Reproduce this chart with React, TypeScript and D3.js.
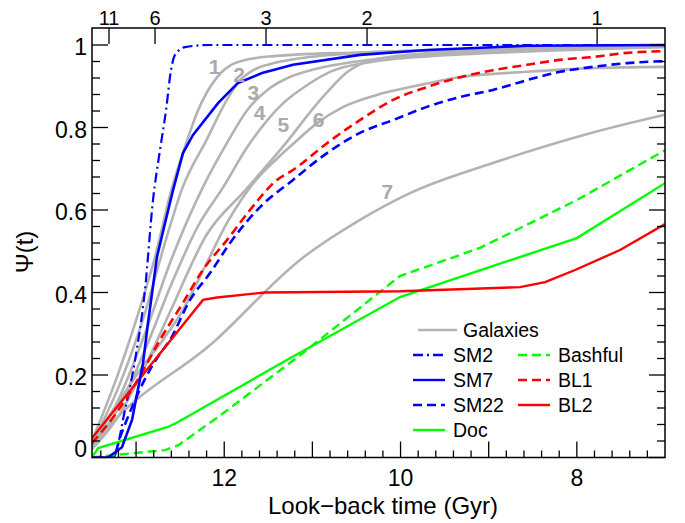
import React from "react";
import * as d3 from "d3";

type P = [number, number];

// Look-back time (Gyr), Psi(t)
const galaxy1: P[] = [[13.5,0.04],[13.2,0.205],[13.01,0.326],[12.785,0.486],[12.6,0.648],[12.45,0.75],[12.3,0.84],[12.08,0.922],[11.88,0.956],[11.5,0.972],[10.5,0.982],[9,0.99],[7,0.997]];
const galaxy2: P[] = [[13.5,0.035],[13.2,0.17],[12.9,0.35],[12.7,0.5],[12.47,0.656],[12.2,0.77],[11.97,0.867],[11.82,0.915],[11.67,0.939],[11.4,0.958],[11.14,0.968],[10.5,0.98],[9,0.99],[7,0.998]];
const galaxy3: P[] = [[13.5,0.03],[13.2,0.14],[12.9,0.3],[12.6,0.48],[12.24,0.656],[11.97,0.762],[11.74,0.842],[11.51,0.891],[11.25,0.923],[11.0,0.94],[10.5,0.96],[9.5,0.978],[8,0.99],[7,0.995]];
const galaxy4: P[] = [[13.5,0.025],[13.2,0.12],[12.9,0.26],[12.6,0.42],[12.3,0.56],[12.01,0.656],[11.74,0.752],[11.51,0.818],[11.33,0.859],[11.14,0.891],[10.8,0.935],[10.3,0.96],[9.5,0.975],[8.5,0.985],[7,0.995]];
const galaxy5: P[] = [[13.5,0.02],[13.2,0.1],[12.9,0.22],[12.6,0.36],[12.2,0.54],[11.76,0.648],[11.367,0.745],[10.86,0.879],[10.6,0.935],[10.35,0.962],[9.8,0.978],[8.5,0.99],[7,0.997]];
const galaxy6: P[] = [[13.5,0.04],[13.18,0.14],[12.955,0.212],[12.695,0.285],[12.47,0.357],[12.2,0.471],[11.97,0.568],[11.65,0.67],[11.4,0.725],[11.22,0.76],[10.95,0.81],[10.65,0.85],[10.27,0.879],[9.89,0.898],[9.33,0.922],[8.57,0.935],[7.82,0.944],[7.0,0.947]];
const galaxy7: P[] = [[13.5,0.023],[13.434,0.042],[12.094,0.285],[11.14,0.479],[10.46,0.576],[9.893,0.641],[8.951,0.714],[7.817,0.788],[7.0,0.831]];
const galaxies = [galaxy1, galaxy2, galaxy3, galaxy4, galaxy5, galaxy6, galaxy7];
const galaxyLabels = ["1","2","3","4","5","6","7"];
const galaxyLabelPos: P[] = [[12.11,0.948],[11.83,0.928],[11.67,0.885],[11.6,0.836],[11.33,0.808],[10.93,0.82],[10.15,0.645]];

const sm2: P[] = [[13.5,0],[13.262,0],[13.126,0.115],[13.012,0.236],[12.899,0.406],[12.808,0.624],[12.729,0.745],[12.66,0.842],[12.604,0.939],[12.558,0.976],[12.445,0.995],[12.16,1.0],[11.34,1.0],[7,1.0]];
const sm7: P[] = [[13.5,0],[13.318,0],[13.16,0.025],[13.046,0.091],[12.921,0.229],[12.865,0.326],[12.763,0.486],[12.672,0.568],[12.581,0.648],[12.468,0.738],[12.354,0.782],[12.07,0.859],[11.844,0.908],[11.571,0.932],[11.22,0.952],[10.46,0.976],[9.7,0.988],[8.565,0.998],[7.0,1.0]];
const sm22: P[] = [[13.5,0],[13.262,0],[13.18,0.05],[13.05,0.12],[12.9,0.19],[12.75,0.245],[12.615,0.285],[12.388,0.382],[12.161,0.447],[11.934,0.52],[11.594,0.607],[11.22,0.673],[10.834,0.738],[10.46,0.787],[10.085,0.818],[9.7,0.85],[9.325,0.874],[8.951,0.891],[8.565,0.915],[8.191,0.935],[7.817,0.947],[7.431,0.956],[7.0,0.961]];
const doc: P[] = [[13.5,0],[13.43,0.023],[12.638,0.074],[12.524,0.086],[11.31,0.234],[10.006,0.389],[8.0,0.532],[7.0,0.665]];
const bashful: P[] = [[13.5,0],[13.3,0.005],[12.67,0.018],[12.52,0.03],[12.07,0.098],[11.14,0.248],[10.006,0.44],[9.1,0.508],[8.0,0.624],[7.0,0.745]];
const bl1: P[] = [[13.5,0.035],[13.2,0.115],[12.95,0.2],[12.729,0.285],[12.468,0.375],[12.241,0.455],[11.969,0.527],[11.708,0.6],[11.401,0.673],[11.22,0.697],[10.834,0.762],[10.46,0.818],[10.085,0.867],[9.7,0.898],[9.325,0.922],[8.951,0.939],[8.565,0.952],[8.191,0.964],[7.817,0.971],[7.431,0.981],[7.0,0.985]];
const bl2: P[] = [[13.5,0.047],[12.241,0.382],[12.082,0.388],[11.54,0.40],[10.0,0.403],[8.645,0.413],[8.36,0.425],[8.02,0.4545],[7.51,0.503],[7.0,0.566]];

const bottomTickLabels = [12, 10, 8];
const yTickLabels = [0, 0.2, 0.4, 0.6, 0.8, 1];
const redshiftLabels = ["11", "6", "3", "2", "1"];
const redshiftTimes = [13.307, 12.785, 11.526, 10.38, 7.77];

const GRAY = "#b3b3b3";
const BLUE = "#0000ff";
const RED = "#ff0000";
const GREEN = "#00ff00";
const FONT = "'Liberation Sans', Arial, sans-serif";

export default function App() {
  const L = 92, R = 665, T = 28, B = 457.5;
  const x = d3.scaleLinear().domain([13.5, 7.0]).range([L, R]);
  const y = d3.scaleLinear().domain([0, 1.04]).range([B, T + 0.5]);
  const smooth = d3.line<P>().x(d => x(d[0])).y(d => y(d[1])).curve(d3.curveMonotoneX);
  const lin = d3.line<P>().x(d => x(d[0])).y(d => y(d[1]));

  const xMinor = d3.range(134, 70, -2).map(v => v / 10);
  const yMinor = d3.range(0, 104, 4).map(v => v / 100);

  const series = [
    { d: sm2, c: BLUE, dash: "10 4 2 4", f: smooth, w: 2.2 },
    { d: sm22, c: BLUE, dash: "9 5", f: smooth, w: 2.6 },
    { d: bl1, c: RED, dash: "9 5", f: smooth, w: 2.6 },
    { d: bashful, c: GREEN, dash: "9 5", f: lin, w: 2.4 },
    { d: doc, c: GREEN, dash: "", f: lin, w: 2.4 },
    { d: bl2, c: RED, dash: "", f: lin, w: 2.4 },
    { d: sm7, c: BLUE, dash: "", f: lin, w: 2.6 },
  ];

  const legend1 = [
    { n: "SM2", c: BLUE, dash: "10 4 2 4" },
    { n: "SM7", c: BLUE, dash: "" },
    { n: "SM22", c: BLUE, dash: "9 5" },
    { n: "Doc", c: GREEN, dash: "" },
  ];
  const legend2 = [
    { n: "Bashful", c: GREEN, dash: "9 5" },
    { n: "BL1", c: RED, dash: "9 5" },
    { n: "BL2", c: RED, dash: "" },
  ];
  const rows = [355, 380, 405, 430];

  return (
    <svg width={685} height={523} style={{ position: "absolute", left: 0, top: 0, background: "#fff" }} fontFamily={FONT}>
      <rect x={0} y={0} width={685} height={523} fill="#fff" />
      <defs>
        <clipPath id="plot"><rect x={L} y={T} width={R - L} height={B - T} /></clipPath>
      </defs>
      <g clipPath="url(#plot)" fill="none">
        {galaxies.map((g, i) => (
          <path key={i} d={smooth(g) || ""} stroke={GRAY} strokeWidth={2.6} />
        ))}
        {series.map((s, i) => (
          <path key={i} d={s.f(s.d) || ""} stroke={s.c} strokeWidth={s.w} strokeDasharray={s.dash} />
        ))}
      </g>
      {galaxyLabels.map((t, i) => (
        <text key={t} x={x(galaxyLabelPos[i][0])} y={y(galaxyLabelPos[i][1])} fill="#aaaaaa" fontSize={21} fontWeight="bold" textAnchor="middle" dominantBaseline="central">{t}</text>
      ))}
      {/* frame */}
      <rect x={L} y={T} width={R - L} height={B - T} fill="none" stroke="#000" strokeWidth={1.5} />
      {/* bottom ticks */}
      {xMinor.map(v => {
        const major = Math.abs(v - Math.round(v)) < 1e-6;
        return <line key={v} x1={x(v)} x2={x(v)} y1={B} y2={B - (major ? 16 : 7)} stroke="#000" strokeWidth={1.3} />;
      })}
      {bottomTickLabels.map(v => (
        <text key={v} x={x(v)} y={486} fontSize={23} textAnchor="middle">{v}</text>
      ))}
      <text x={383} y={514} fontSize={24} textAnchor="middle">Look−back time (Gyr)</text>
      {/* y ticks */}
      {yMinor.map(v => {
        const major = Math.abs(v * 5 - Math.round(v * 5)) < 1e-6;
        const len = major ? 16 : 8;
        return (
          <g key={v}>
            <line x1={L} x2={L + len} y1={y(v)} y2={y(v)} stroke="#000" strokeWidth={1.3} />
            <line x1={R} x2={R - len} y1={y(v)} y2={y(v)} stroke="#000" strokeWidth={1.3} />
          </g>
        );
      })}
      {yTickLabels.map(v => (
        <text key={v} x={87} y={v === 0 ? 457 : y(v) + 10} fontSize={23} textAnchor="end">{v}</text>
      ))}
      <text transform="translate(33,252) rotate(-90)" fontSize={24} textAnchor="middle">Ψ(t)</text>
      {/* top redshift ticks */}
      {redshiftTimes.map((t, i) => (
        <g key={i}>
          <line x1={x(t)} x2={x(t)} y1={T} y2={T + 16} stroke="#000" strokeWidth={1.3} />
          <text x={x(t)} y={25} fontSize={20} textAnchor="middle">{redshiftLabels[i]}</text>
        </g>
      ))}
      {/* legend */}
      <line x1={418} x2={457} y1={330} y2={330} stroke={GRAY} strokeWidth={2.6} />
      <text x={463} y={337} fontSize={19.5}>Galaxies</text>
      {legend1.map((l, i) => (
        <g key={l.n}>
          <line x1={413} x2={445} y1={rows[i]} y2={rows[i]} stroke={l.c} strokeWidth={2.4} strokeDasharray={l.dash} />
          <text x={453} y={rows[i] + 7} fontSize={19.5}>{l.n}</text>
        </g>
      ))}
      {legend2.map((l, i) => (
        <g key={l.n}>
          <line x1={518} x2={550} y1={rows[i]} y2={rows[i]} stroke={l.c} strokeWidth={2.4} strokeDasharray={l.dash} />
          <text x={558} y={rows[i] + 7} fontSize={19.5}>{l.n}</text>
        </g>
      ))}
    </svg>
  );
}
